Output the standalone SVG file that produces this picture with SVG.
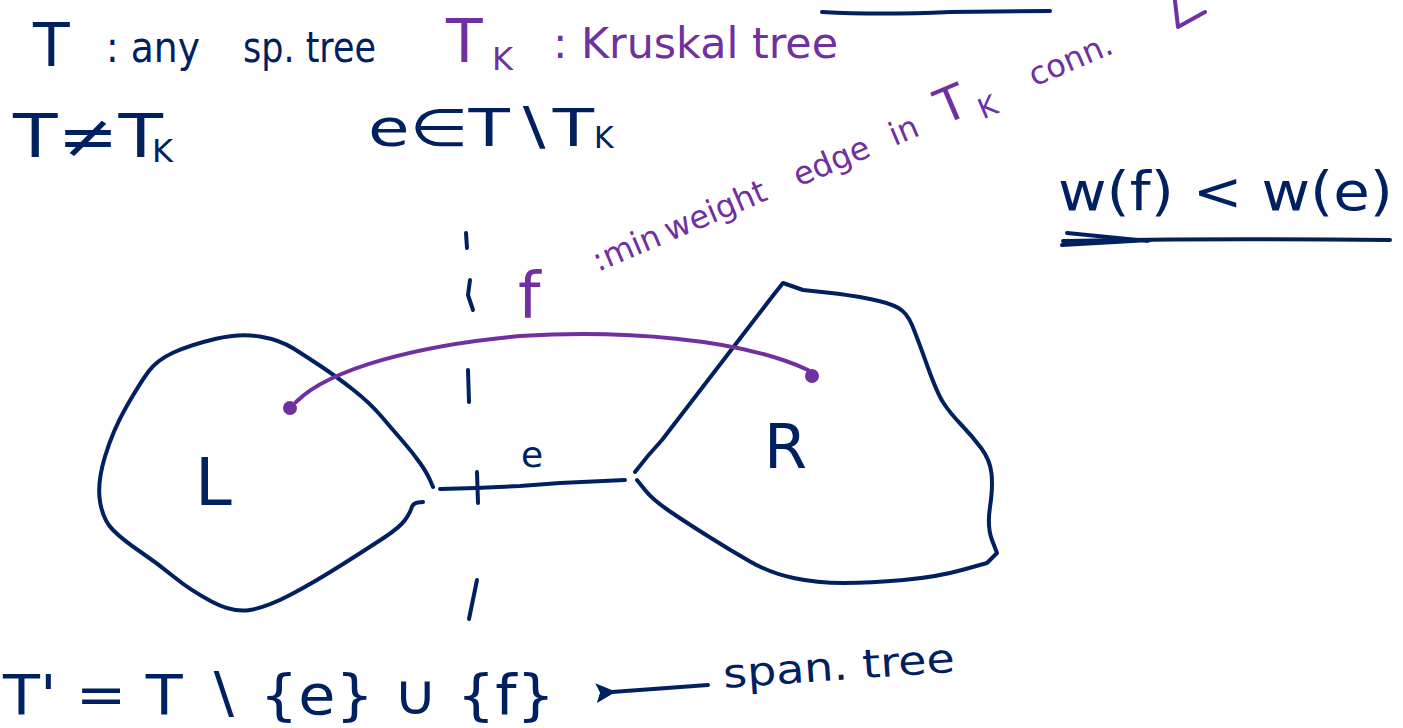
<svg xmlns="http://www.w3.org/2000/svg" width="1403" height="728" viewBox="0 0 1403 728">
<defs>
<style>
.ink{fill:none;stroke:#002060;stroke-width:4;stroke-linecap:round;stroke-linejoin:round}
.pink{fill:none;stroke:#7030a0;stroke-width:4;stroke-linecap:round;stroke-linejoin:round}
.t{font-family:"DejaVu Sans","Liberation Sans",sans-serif;fill:#002060}
.p{font-family:"DejaVu Sans","Liberation Sans",sans-serif;fill:#7030a0}
</style>
<marker id="ah" viewBox="0 0 10 10" refX="2" refY="5" markerWidth="5" markerHeight="5" orient="auto-start-reverse">
<path d="M0,5 L10,0 L8,5 L10,10 Z" fill="#002060"/>
</marker>
</defs>
<rect width="1403" height="728" fill="#ffffff"/>

<g id="top-strokes">
<path class="ink" d="M822,12 Q880,15 950,12 L1050,11"/>
<path class="pink" d="M1175,1 L1178,27 L1205,12"/>
</g>

<g id="definitions">
<text class="t" x="33" y="66" font-size="60">T</text>
<text class="t" x="106" y="62" font-size="42" textLength="94" lengthAdjust="spacingAndGlyphs">: any</text>
<text class="t" x="243" y="62" font-size="42" textLength="133" lengthAdjust="spacingAndGlyphs">sp. tree</text>
<text class="p" x="446" y="62" font-size="60">T</text>
<text class="p" x="492" y="70" font-size="32">K</text>
<text class="p" x="553" y="58" font-size="42" textLength="285" lengthAdjust="spacingAndGlyphs">: Kruskal tree</text>
<text class="t" x="13" y="157" font-size="60" textLength="150" lengthAdjust="spacingAndGlyphs">T≠T</text>
<text class="t" x="152" y="162" font-size="32">K</text>
<text class="t" x="368" y="146" font-size="52" textLength="226" lengthAdjust="spacingAndGlyphs">e∈T∖T</text>
<text class="t" x="594" y="148" font-size="30">K</text>
</g>

<g id="comparison">
<text class="t" x="1058" y="210" font-size="54" textLength="335" lengthAdjust="spacingAndGlyphs">w(f) &lt; w(e)</text>
<path class="ink" d="M1063,241 Q1200,238 1390,240"/>
<path class="ink" d="M1067,233 L1148,241 M1062,245 L1150,240"/>
</g>

<g id="f-label">
<text class="p" x="518" y="318" font-size="64">f</text>
<text class="p" font-size="32" transform="translate(598,272) rotate(-23)"><tspan x="0" y="0">:min</tspan><tspan x="78" y="0">weight</tspan><tspan x="218" y="0">edge</tspan><tspan x="322" y="0">in</tspan><tspan x="376" y="0" font-size="48">T</tspan><tspan x="414" y="10" font-size="28">K</tspan><tspan x="474" y="0">conn.</tspan></text>
</g>

<g id="L">
<path class="ink" d="M433,487 L430,480 Q427,473 420,463 Q413,453 403,441.5 Q393,430 381.5,416.5 Q370,403 353.5,390 Q337,377 322,367 Q307,357 293.5,348.5 Q280,340 260,336.5 Q240,333 215,339 Q190,345 173.5,352.5 Q157,360 148.5,371.5 Q140,383 126.5,406.5 Q113,430 105,456.5 Q97,483 100,501.5 Q103,520 113,530 Q123,540 140,551.5 Q157,563 173.5,576.5 Q190,590 211.5,601.5 Q233,613 250,610 Q267,607 290,595 Q313,583 341.5,565 Q370,547 385,537 Q400,527 405,520 Q410,513 411.5,508 Q413,503 418,502.5 L423,502"/>
<text class="t" x="195" y="505" font-size="66">L</text>
</g>

<g id="R">
<path class="ink" d="M635,472 Q648,455 662,440 L735,345 L775,293 L783,283 L803,290 L826.5,292.5 Q850,295 870,299 Q890,303 898.5,308 Q907,313 912,325 Q917,337 927,365 Q937,393 943.5,403 Q950,413 961.5,425 Q973,437 981.5,448.5 Q990,460 991.5,473.5 Q993,487 990,507 Q987,527 992,540 L997,553 L987,563 L962,570 Q937,577 903.5,580 Q870,583 843.5,583 Q817,583 793.5,578 Q770,573 750,561.5 Q730,550 708.5,536.5 Q687,523 670,511.5 Q653,500 645,490 L637,480"/>
<text class="t" x="764" y="468" font-size="62">R</text>
</g>

<g id="connectors">
<path id="edge-e" class="ink" d="M440,489 L476,488 L520,486 L560,483 L625,480"/>
<text class="t" x="521" y="467" font-size="36">e</text>
<g id="cut">
<path class="ink" d="M466,233 L467,248"/>
<path class="ink" d="M470,280 L468,295 L473,310"/>
<path class="ink" d="M468,370 L469,402"/>
<path class="ink" d="M477,472 L478,503"/>
<path class="ink" d="M477,580 L469,619"/>
</g>
<path id="edge-f" class="pink" d="M296,402 C330,368 420,345 520,336 C620,330 740,338 808,370"/>
<circle cx="290" cy="408" r="7" fill="#7030a0"/>
<circle cx="812" cy="376" r="7" fill="#7030a0"/>
<path id="arrow" class="ink" d="M708,685 L612,692" marker-end="url(#ah)"/>
</g>

<g id="conclusion">
<text class="t" x="3" y="714" font-size="56" textLength="552" lengthAdjust="spacingAndGlyphs">T' = T ∖ {e} ∪ {f}</text>
<text class="t" x="724" y="688" font-size="40" textLength="232" lengthAdjust="spacingAndGlyphs" transform="rotate(-4 724 688)">span. tree</text>
</g>
</svg>
